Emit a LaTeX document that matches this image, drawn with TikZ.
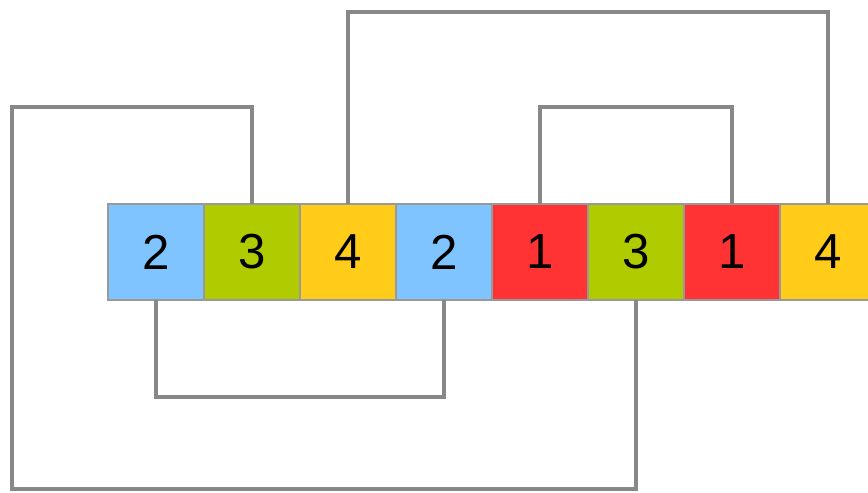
\documentclass[tikz,border=0pt]{standalone}
\usepackage{fontspec}
\setmainfont{Liberation Sans}
\usetikzlibrary{positioning}
\definecolor{cellblue}{HTML}{80C4FF}
\definecolor{cellgreen}{HTML}{B0CC00}
\definecolor{cellyellow}{HTML}{FFCC1A}
\definecolor{cellred}{HTML}{FF3333}
\definecolor{cellgrey}{HTML}{999999}
\definecolor{linkgrey}{HTML}{888888}
\begin{document}
\begin{tikzpicture}[
    node distance=0pt,
    cell/.style={draw=cellgrey, line width=0.6pt, minimum width=1.92cm, minimum height=1.92cm,
                 outer sep=0pt, inner sep=0pt, font=\fontsize{28}{30}\selectfont},
    blue/.style={cell, fill=cellblue},
    green/.style={cell, fill=cellgreen},
    yellow/.style={cell, fill=cellyellow},
    red/.style={cell, fill=cellred},
    link/.style={draw=linkgrey, line width=2.8pt}]
  \useasboundingbox (0,0) rectangle (17.36,9.84);
  \node[blue] (b1) at (3.12,4.8) {2};
  \node[green, right=of b1] (g1) {3};
  \node[yellow, right=of g1] (y1) {4};
  \node[blue, right=of y1] (b2) {2};
  \node[red, right=of b2] (r1) {1};
  \node[green, right=of r1] (g2) {3};
  \node[red, right=of g2] (r2) {1};
  \node[yellow, right=of r2] (y2) {4};
  \coordinate (lt) at (0.24,7.70);
  \coordinate (lb) at (0.24,0.06);
  \draw[link] (g1.north) |- (lt) -- (lb) -| (g2.south);
  \draw[link] (y1.north) -- ++(0,3.84) -| (y2.north);
  \draw[link] (r1.north) -- ++(0,1.94) -| (r2.north);
  \draw[link] (b1.south) -- ++(0,-1.94) -| (b2.south);
\end{tikzpicture}
\end{document}
